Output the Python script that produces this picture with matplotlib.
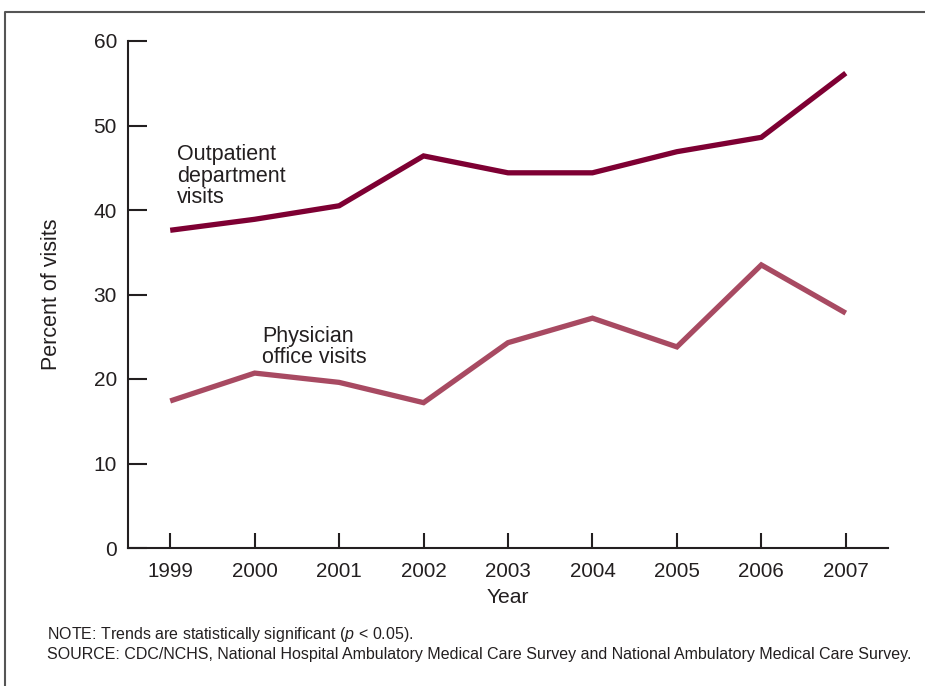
import matplotlib.pyplot as plt
from matplotlib.lines import Line2D

years = [1999, 2000, 2001, 2002, 2003, 2004, 2005, 2006, 2007]
outpatient = [37.6, 38.9, 40.5, 46.4, 44.4, 44.4, 46.9, 48.6, 56.2]
physician = [17.4, 20.7, 19.6, 17.2, 24.3, 27.2, 23.8, 33.5, 27.8]
y_ticks = [0, 10, 20, 30, 40, 50, 60]

note_text = "NOTE: Trends are statistically significant ($\\it{p}$ < 0.05)."
source_text = ("SOURCE: CDC/NCHS, National Hospital Ambulatory Medical Care Survey "
               "and National Ambulatory Medical Care Survey.")

plt.rcParams['font.family'] = ['Liberation Sans', 'DejaVu Sans']
plt.rcParams['mathtext.fontset'] = 'custom'
plt.rcParams['mathtext.it'] = 'Liberation Sans:italic'

dark = '#231f20'
fig = plt.figure(figsize=(9.25, 6.86), dpi=100, facecolor='white')
ax = fig.add_axes([128 / 925, 138 / 686, 760 / 925, 507 / 686])

ax.plot(years, outpatient, color='#7e0033', lw=3.8,
        solid_capstyle='butt', solid_joinstyle='miter')
ax.plot(years, physician, color='#a84a62', lw=3.8,
        solid_capstyle='butt', solid_joinstyle='miter')

ax.set_xlim(1998.5, 2007.5)
ax.set_ylim(0, 60)
ax.set_xticks(years)
ax.set_yticks(y_ticks)

for side in ['top', 'right']:
    ax.spines[side].set_visible(False)
for side in ['left', 'bottom']:
    ax.spines[side].set_linewidth(1.5)
    ax.spines[side].set_color(dark)

ax.tick_params(axis='y', direction='in', length=14, width=1.5, color=dark,
               labelsize=15, pad=8, labelcolor=dark)
ax.tick_params(axis='x', direction='in', length=11, width=1.5, color=dark,
               labelsize=14.8, pad=10, labelcolor=dark)

ax.set_ylabel("Percent of visits", fontsize=15.5, color=dark, va='center')
ax.yaxis.set_label_coords(-0.1, 0.5)
ax.set_xlabel("Year", fontsize=15.2, color=dark, va='center')
ax.xaxis.set_label_coords(0.5, -0.0986)

ax.text(1999.08, 47.8, "Outpatient\ndepartment\nvisits", fontsize=15.5,
        color=dark, va='top', ha='left', linespacing=1.03)
ax.text(2000.09, 26.3, "Physician\noffice visits", fontsize=15.5,
        color=dark, va='top', ha='left', linespacing=1.03)

fig.text(47 / 925, 1 - 634 / 686, note_text, fontsize=11.5, color=dark, va='center')
fig.text(47 / 925, 1 - 654 / 686, source_text, fontsize=11.5, color=dark, va='center')

# outer frame (top and left edges)
fx = 5 / 925
fy = 1 - 12 / 686
fig.add_artist(Line2D([fx, fx, 1], [0, fy, fy], transform=fig.transFigure,
                      color='#555555', lw=1.5))

fig.savefig('out.png', dpi=100, facecolor='white')
